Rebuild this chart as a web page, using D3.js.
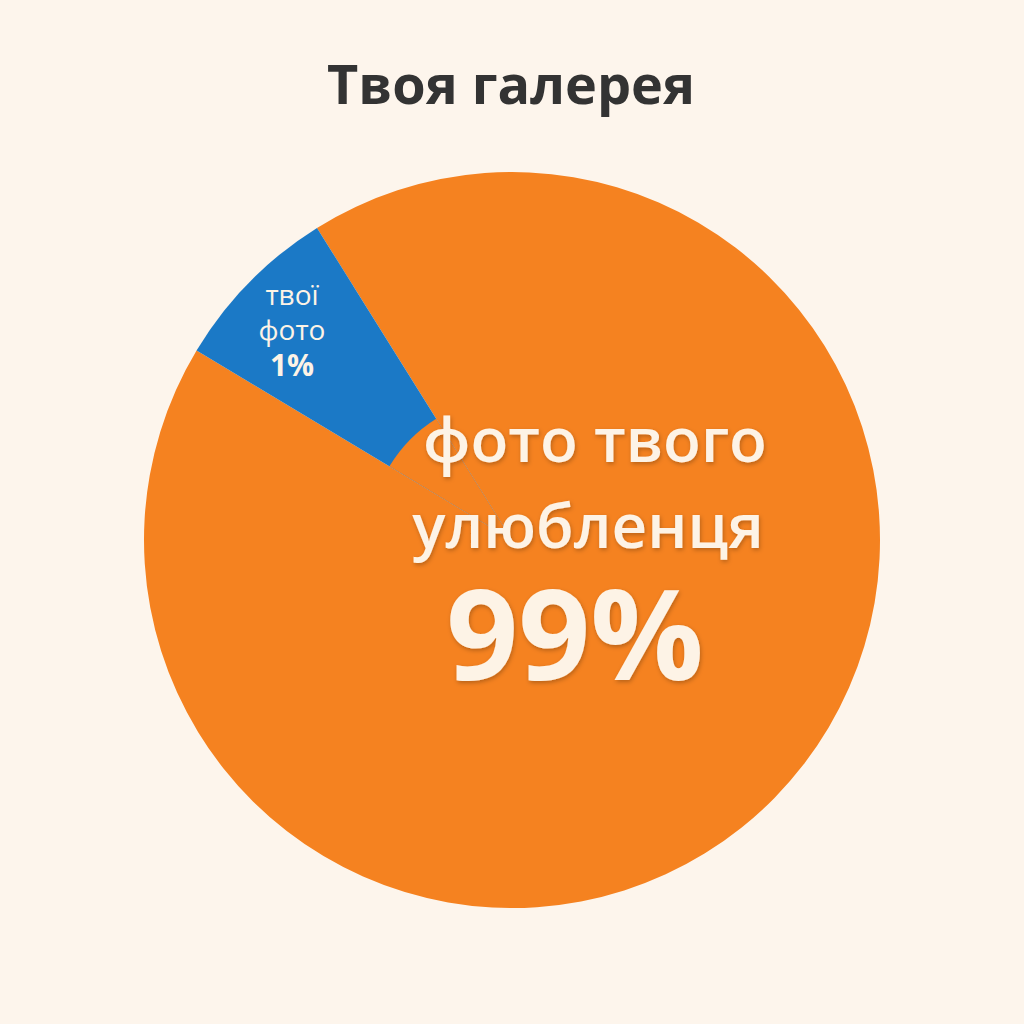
<!DOCTYPE html>
<html><head><meta charset="utf-8">
<script src="https://cdn.jsdelivr.net/npm/d3@7"></script>
<style>body{margin:0;background:#fdf5ec}</style></head>
<body><svg id="c" width="1024" height="1024"></svg>
<script>
const categories = ["фото твого улюбленця", "твої фото"];
const labelValues = ["99%", "1%"];
const sliceSizes = [92.5, 7.5]; // visual wedge sizes as drawn
const colors = ["#f58220", "#1b79c6"];
const title = "Твоя галерея";

const svg = d3.select("#c");
svg.append("rect").attr("width",1024).attr("height",1024).attr("fill","#fdf5ec");
const defs = svg.append("defs");
const f = defs.append("filter").attr("id","sh").attr("x","-20%").attr("y","-20%").attr("width","140%").attr("height","140%");
f.append("feDropShadow").attr("dx",1).attr("dy",2).attr("stdDeviation",2).attr("flood-color","#000").attr("flood-opacity",0.25);

svg.append("text").attr("x",511).attr("y",104).attr("text-anchor","middle")
  .attr("font-family","Open Sans, Noto Sans, sans-serif").attr("font-weight",700)
  .attr("font-size",54).attr("fill","#333").text(title);

const cx=512, cy=540, R=368;
const deg = Math.PI/180;
const pie = d3.pie().sort(null).startAngle(-32*deg).endAngle(328*deg);
const arcs = pie(sliceSizes);
const arc = d3.arc().innerRadius(0).outerRadius(R);
const g = svg.append("g").attr("transform",`translate(${cx},${cy})`);
g.selectAll("path").data(arcs).join("path").attr("d",arc).attr("fill",(d,i)=>colors[i]);
// orange covers the wedge tip near the centre, as in the reference
g.append("path").attr("d", d3.arc().innerRadius(0).outerRadius(143)(arcs[1])).attr("fill",colors[0]);

const tf = "Open Sans, Noto Sans, sans-serif";
const tc = "#fdf3e6";
const s = svg.append("g").attr("font-family",tf).attr("fill",tc).attr("text-anchor","middle");
s.append("text").attr("x",292).attr("y",305).attr("font-size",28).text("твої");
s.append("text").attr("x",292).attr("y",340).attr("font-size",28).text("фото");
s.append("text").attr("x",292).attr("y",376).attr("font-size",30).attr("font-weight",700).text(labelValues[1]);
const b = svg.append("g").attr("font-family",tf).attr("fill",tc).attr("text-anchor","middle").attr("font-weight",600).attr("filter","url(#sh)");
b.append("text").attr("x",595).attr("y",462).attr("font-size",62).text("фото твого");
b.append("text").attr("x",588).attr("y",548).attr("font-size",62).text("улюбленця");
b.append("text").attr("x",575).attr("y",680).attr("font-size",126).attr("font-weight",700).text(labelValues[0]);
</script></body></html>
